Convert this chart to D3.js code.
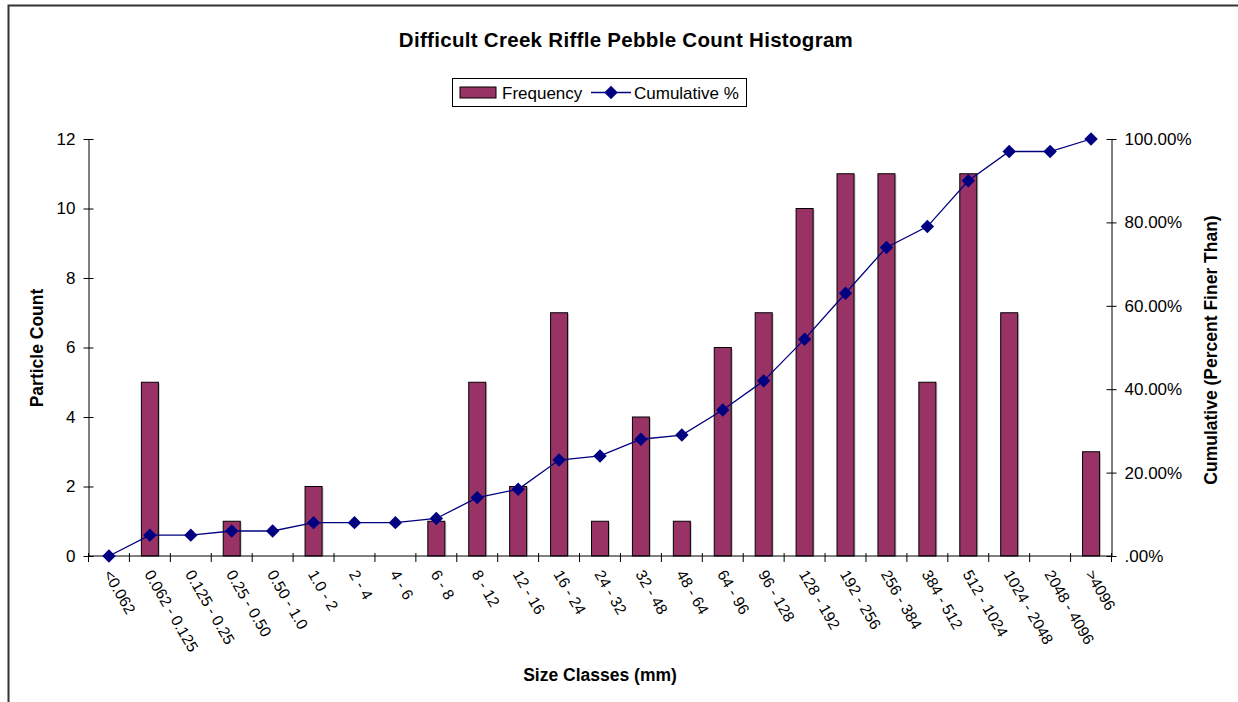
<!DOCTYPE html>
<html><head><meta charset="utf-8">
<script src="https://cdn.jsdelivr.net/npm/d3@7"></script>
<style>
body{margin:0;background:#fff;}
text{font-family:"Liberation Sans",Arial,sans-serif;}
</style></head>
<body><svg id="c" width="1238" height="702"></svg>
<script>
const categories = ["<0.062","0.062 - 0.125","0.125 - 0.25","0.25 - 0.50","0.50 - 1.0","1.0 - 2","2 - 4","4 - 6","6 - 8","8 - 12","12 - 16","16 - 24","24 - 32","32 - 48","48 - 64","64 - 96","96 - 128","128 - 192","192 - 256","256 - 384","384 - 512","512 - 1024","1024 - 2048","2048 - 4096",">4096"];
const frequency = [0,5,0,1,0,2,0,0,1,5,2,7,1,4,1,6,7,10,11,11,5,11,7,0,3];
const cumulative = [0,0.05,0.05,0.06,0.06,0.08,0.08,0.08,0.09,0.14,0.16,0.23,0.24,0.28,0.29,0.35,0.42,0.52,0.63,0.74,0.79,0.90,0.97,0.97,1.00];
const leftTicks = [0,2,4,6,8,10,12];
const rightTicks = [0,0.2,0.4,0.6,0.8,1.0];
const rightTickLabels = [".00%","20.00%","40.00%","60.00%","80.00%","100.00%"];

const svg = d3.select("#c");
const L = 88.5, R = 1111.5, T = 139, B = 556;
// frame
svg.append("path").attr("d","M8.5,702 L8.5,5.5 L1238,5.5").attr("fill","none").attr("stroke","#333").attr("stroke-width",2);

const x = d3.scaleBand().domain(categories).range([L,R]).paddingInner(0).paddingOuter(0);
const y = d3.scaleLinear().domain([0,12]).range([B,T]);
const y2 = d3.scaleLinear().domain([0,1]).range([B,T]);

// title
svg.append("text").attr("x",626).attr("y",47).attr("text-anchor","middle").attr("font-weight","bold").attr("font-size",20.5).attr("letter-spacing",0.3).text("Difficult Creek Riffle Pebble Count Histogram");

// bars
const bw = 17;
const barData = frequency.map((v,i)=>({v,c:categories[i]})).filter(d=>d.v>0);
const bars = svg.append("g");
bars.selectAll("rect.sh").data(barData).join("rect")
  .attr("x",d=>x(d.c)+x.bandwidth()/2-bw/2+1.5).attr("y",d=>y(d.v)+1).attr("width",bw).attr("height",d=>B-y(d.v)-1)
  .attr("fill","#c8c8c8");
bars.selectAll("rect.b").data(barData).join("rect")
  .attr("x",d=>x(d.c)+x.bandwidth()/2-bw/2).attr("y",d=>y(d.v)).attr("width",bw).attr("height",d=>B-y(d.v))
  .attr("fill","#993366").attr("stroke","#000").attr("stroke-width",1);

// left axis
const ya = svg.append("g").attr("transform",`translate(${L},0)`)
  .call(d3.axisLeft(y).tickValues(leftTicks).tickSize(0).tickPadding(13).tickFormat(d3.format("d")));
ya.select(".domain").attr("stroke","#000");
ya.selectAll("text").attr("font-size",17).attr("font-family","Liberation Sans, Arial, sans-serif").attr("fill","#000");
ya.selectAll(".tick").append("line").attr("x1",-5).attr("x2",5).attr("stroke","#000");

// right axis
const ra = svg.append("g").attr("transform",`translate(${R},0)`)
  .call(d3.axisRight(y2).tickValues(rightTicks).tickSize(0).tickPadding(13).tickFormat((d,i)=>rightTickLabels[i]));
ra.select(".domain").attr("stroke","#000");
ra.selectAll("text").attr("font-size",17).attr("font-family","Liberation Sans, Arial, sans-serif").attr("fill","#000");
ra.selectAll(".tick").append("line").attr("x1",-5).attr("x2",5).attr("stroke","#000");

// bottom axis
const xa = svg.append("g").attr("transform",`translate(0,${B})`);
xa.append("line").attr("x1",L).attr("x2",R).attr("stroke","#000");
const bounds = categories.map(c=>x(c)).concat([R]);
xa.selectAll("line.t").data(bounds).join("line").attr("class","t")
  .attr("x1",d=>d).attr("x2",d=>d).attr("y1",-3).attr("y2",6).attr("stroke","#000");
xa.selectAll("text").data(categories).join("text")
  .attr("transform",d=>`translate(${x(d)+x.bandwidth()/2-6},${18}) rotate(60)`)
  .attr("font-size",15.5).attr("fill","#000").attr("text-anchor","start").text(d=>d);

// line
const lineGen = d3.line().x((d,i)=>x(categories[i])+x.bandwidth()/2).y(d=>y2(d));
svg.append("path").datum(cumulative).attr("d",lineGen).attr("fill","none").attr("stroke","#000080").attr("stroke-width",1.3);
const sym = d3.symbol().type(d3.symbolDiamond2).size(115);
svg.append("g").selectAll("path").data(cumulative).join("path")
  .attr("transform",(d,i)=>`translate(${x(categories[i])+x.bandwidth()/2},${y2(d)})`)
  .attr("d",sym).attr("fill","#000080");

// axis titles
svg.append("text").attr("transform","translate(43,348) rotate(-90)").attr("text-anchor","middle").attr("font-weight","bold").attr("font-size",17.5).text("Particle Count");
svg.append("text").attr("transform","translate(1217,350) rotate(-90)").attr("text-anchor","middle").attr("font-weight","bold").attr("font-size",17.5).text("Cumulative (Percent Finer Than)");
svg.append("text").attr("x",600).attr("y",681).attr("text-anchor","middle").attr("font-weight","bold").attr("font-size",17.5).text("Size Classes (mm)");

// legend
const lg = svg.append("g");
lg.append("rect").attr("x",452.5).attr("y",78.5).attr("width",294).attr("height",28).attr("fill","#fff").attr("stroke","#000");
lg.append("rect").attr("x",460).attr("y",87).attr("width",36).attr("height",11).attr("fill","#993366").attr("stroke","#000");
lg.append("text").attr("x",502).attr("y",99).attr("font-size",17).text("Frequency");
lg.append("line").attr("x1",591).attr("x2",631).attr("y1",92.5).attr("y2",92.5).attr("stroke","#000080").attr("stroke-width",1.3);
lg.append("path").attr("transform","translate(611,92.5)").attr("d",sym).attr("fill","#000080");
lg.append("text").attr("x",634).attr("y",99).attr("font-size",17).text("Cumulative %");
</script></body></html>
